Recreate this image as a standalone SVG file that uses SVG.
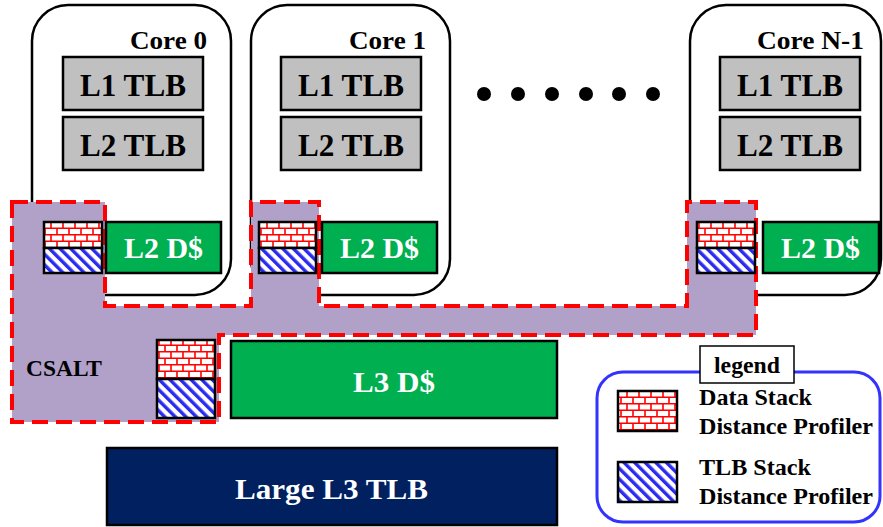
<svg xmlns="http://www.w3.org/2000/svg" width="883" height="527" viewBox="0 0 883 527">
  <defs>
    <pattern id="brick" patternUnits="userSpaceOnUse" width="12" height="13" x="0" y="0">
      <rect width="12" height="13" fill="#ffffff"/>
      <path d="M0 0.8H12 M0 7.3H12 M3 0V6.5 M9 6.5V13" stroke="#ff0000" stroke-width="1.6"/>
    </pattern>
    <pattern id="stripes" patternUnits="userSpaceOnUse" width="7.5" height="7.5" patternTransform="rotate(-45)">
      <rect width="7.5" height="7.5" fill="#ffffff"/>
      <rect width="3.4" height="7.5" fill="#2a2af0"/>
    </pattern>
    <style>
      .core { fill: #ffffff; stroke: #000000; stroke-width: 2.5; }
      .tlb { fill: #c0c0c0; stroke: #000000; stroke-width: 2.5; }
      .dcache { fill: #00b050; stroke: #000000; stroke-width: 2.5; }
      .bricks { fill: url(#brick); stroke: #000000; stroke-width: 2.5; }
      .hatch { fill: url(#stripes); stroke: #000000; stroke-width: 2.5; }
      .lbl { font-family: "Liberation Serif", "Times New Roman", serif; font-weight: bold; fill: #000000; }
      .wlbl { font-family: "Liberation Serif", "Times New Roman", serif; font-weight: bold; fill: #ffffff; }
    </style>
  </defs>

  <rect width="883" height="527" fill="#ffffff"/>

  <!-- cores -->
  <g id="core0">
    <rect class="core" x="32" y="5" width="199" height="290" rx="36"/>
    <text class="lbl" x="130" y="49" font-size="25" textLength="77" lengthAdjust="spacingAndGlyphs">Core 0</text>
    <rect class="tlb" x="63" y="57" width="140" height="53"/>
    <text class="lbl" x="80" y="96" font-size="31" textLength="106" lengthAdjust="spacingAndGlyphs">L1 TLB</text>
    <rect class="tlb" x="63" y="117" width="140" height="53"/>
    <text class="lbl" x="80" y="156" font-size="31" textLength="106" lengthAdjust="spacingAndGlyphs">L2 TLB</text>
  </g>
  <g id="core1">
    <rect class="core" x="251" y="5" width="199" height="290" rx="36"/>
    <text class="lbl" x="349" y="49" font-size="25" textLength="77" lengthAdjust="spacingAndGlyphs">Core 1</text>
    <rect class="tlb" x="281" y="57" width="140" height="53"/>
    <text class="lbl" x="298" y="96" font-size="31" textLength="106" lengthAdjust="spacingAndGlyphs">L1 TLB</text>
    <rect class="tlb" x="281" y="117" width="140" height="53"/>
    <text class="lbl" x="298" y="156" font-size="31" textLength="106" lengthAdjust="spacingAndGlyphs">L2 TLB</text>
  </g>
  <g id="coreN1">
    <rect class="core" x="690" y="5" width="191" height="290" rx="36"/>
    <text class="lbl" x="757" y="49" font-size="25" textLength="107" lengthAdjust="spacingAndGlyphs">Core N-1</text>
    <rect class="tlb" x="720" y="57" width="140" height="53"/>
    <text class="lbl" x="737" y="96" font-size="31" textLength="106" lengthAdjust="spacingAndGlyphs">L1 TLB</text>
    <rect class="tlb" x="720" y="117" width="140" height="53"/>
    <text class="lbl" x="737" y="156" font-size="31" textLength="106" lengthAdjust="spacingAndGlyphs">L2 TLB</text>
  </g>

  <!-- ellipsis between cores -->
  <g id="ellipsis" fill="#000000">
    <circle cx="484" cy="94" r="7"/>
    <circle cx="518" cy="94" r="7"/>
    <circle cx="552" cy="94" r="7"/>
    <circle cx="586" cy="94" r="7"/>
    <circle cx="619" cy="94" r="7"/>
    <circle cx="653" cy="94" r="7"/>
  </g>

  <!-- CSALT region -->
  <g id="csalt">
    <path d="M12 202 H105 V306 H251 V202 H319 V306 H687 V202 H756 V335 H219 V422 H12 Z" fill="#b1a1c9"/>
    <path d="M12 202 H105 V306 H251 V202 H319 V306 H687 V202 H756 V335 H219 V422 H12 Z" fill="none" stroke="#ff0000" stroke-width="4" stroke-dasharray="16 8"/>
    <text class="lbl" x="26" y="376" font-size="24" textLength="76" lengthAdjust="spacingAndGlyphs">CSALT</text>
  </g>

  <!-- per-core profilers and L2 caches -->
  <g id="core0-l2">
    <rect class="bricks" x="44" y="222" width="58" height="26"/>
    <rect class="hatch" x="44" y="248" width="58" height="25"/>
    <rect class="dcache" x="106" y="222" width="115" height="51"/>
    <text class="wlbl" x="124" y="258" font-size="30" textLength="79" lengthAdjust="spacingAndGlyphs">L2 D$</text>
  </g>
  <g id="core1-l2">
    <rect class="bricks" x="259" y="222" width="57" height="26"/>
    <rect class="hatch" x="259" y="248" width="57" height="25"/>
    <rect class="dcache" x="322" y="222" width="115" height="51"/>
    <text class="wlbl" x="340" y="258" font-size="30" textLength="79" lengthAdjust="spacingAndGlyphs">L2 D$</text>
  </g>
  <g id="coreN1-l2">
    <rect class="bricks" x="697" y="222" width="58" height="26"/>
    <rect class="hatch" x="697" y="248" width="58" height="25"/>
    <rect class="dcache" x="763" y="222" width="116" height="51"/>
    <text class="wlbl" x="781" y="258" font-size="30" textLength="79" lengthAdjust="spacingAndGlyphs">L2 D$</text>
  </g>

  <!-- shared L3 -->
  <g id="l3-profiler">
    <rect class="bricks" x="157" y="340" width="58" height="39"/>
    <rect class="hatch" x="157" y="379" width="58" height="39"/>
  </g>
  <g id="l3-dcache">
    <rect class="dcache" x="231" y="341" width="326" height="77"/>
    <text class="wlbl" x="353" y="392" font-size="30" textLength="82" lengthAdjust="spacingAndGlyphs">L3 D$</text>
  </g>
  <g id="l3-tlb">
    <rect x="107" y="448" width="450" height="77" fill="#002060" stroke="#000000" stroke-width="2.5"/>
    <text class="wlbl" x="235" y="499" font-size="30" textLength="193" lengthAdjust="spacingAndGlyphs">Large L3 TLB</text>
  </g>

  <!-- legend -->
  <g id="legend">
    <rect x="597" y="372" width="283" height="150" rx="26" fill="#ffffff" stroke="#3333ff" stroke-width="3"/>
    <rect x="700" y="346" width="94" height="37" fill="#ffffff" stroke="#000000" stroke-width="1.5"/>
    <text class="lbl" x="714" y="373" font-size="23" textLength="66" lengthAdjust="spacingAndGlyphs">legend</text>
    <rect class="bricks" x="618" y="391" width="59" height="40"/>
    <text class="lbl" x="699" y="405" font-size="23" textLength="113" lengthAdjust="spacingAndGlyphs">Data Stack</text>
    <text class="lbl" x="699" y="434" font-size="23" textLength="174" lengthAdjust="spacingAndGlyphs">Distance Profiler</text>
    <rect class="hatch" x="618" y="462" width="59" height="40"/>
    <text class="lbl" x="699" y="475" font-size="23" textLength="112" lengthAdjust="spacingAndGlyphs">TLB Stack</text>
    <text class="lbl" x="699" y="504" font-size="23" textLength="174" lengthAdjust="spacingAndGlyphs">Distance Profiler</text>
  </g>
</svg>
